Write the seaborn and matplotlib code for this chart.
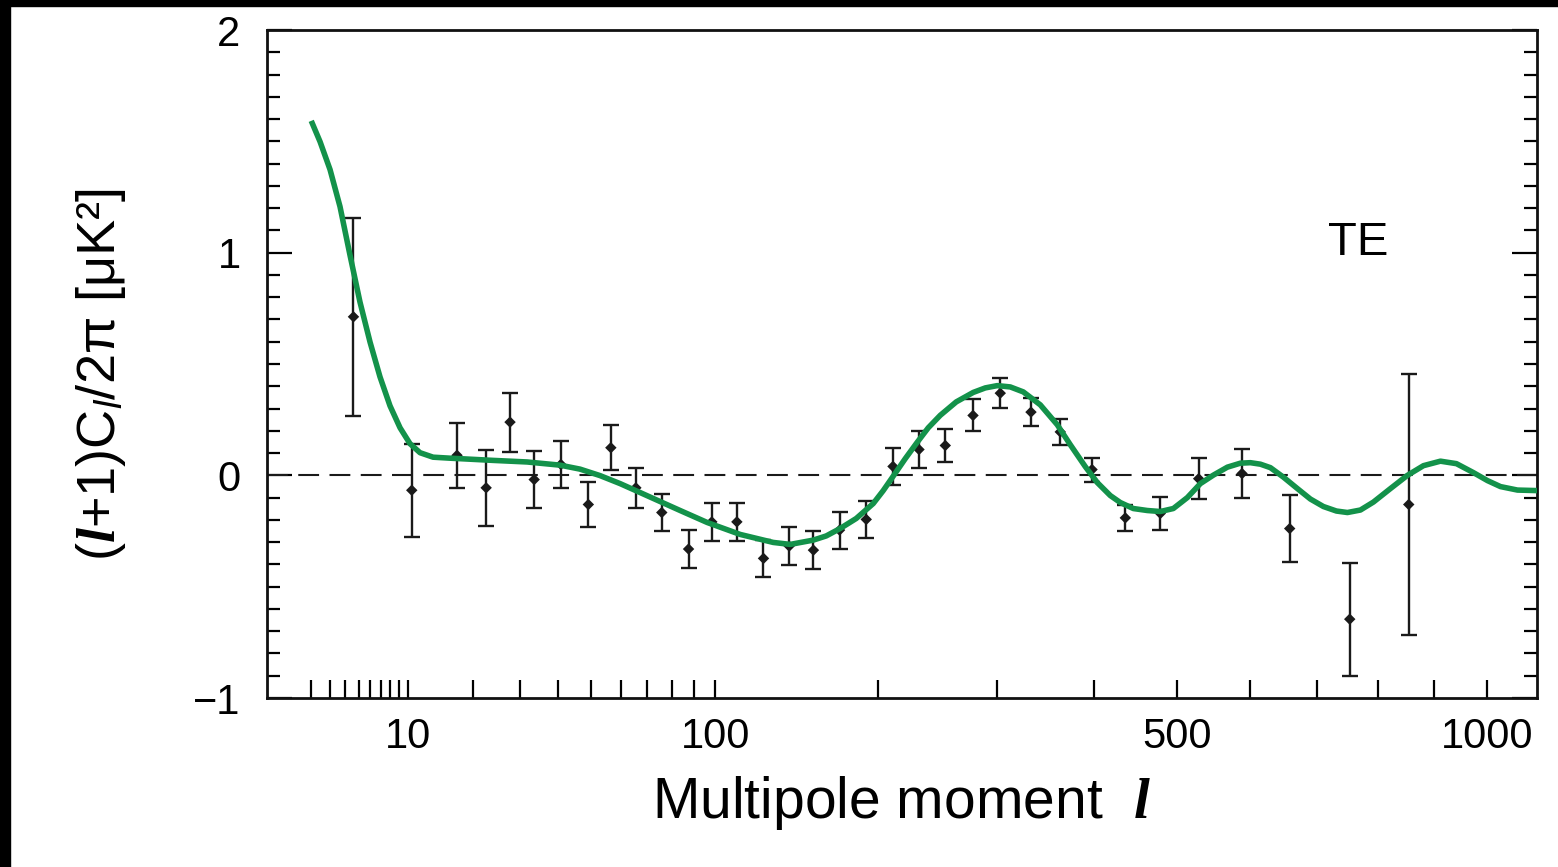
import numpy as np
import matplotlib
matplotlib.use('Agg')
import matplotlib.pyplot as plt
import seaborn as sns
from matplotlib.patches import Rectangle
from matplotlib.ticker import FixedLocator, NullFormatter, MultipleLocator

sns.set_style('ticks')
plt.rcParams['font.family'] = ['Liberation Sans', 'DejaVu Sans']
plt.rcParams['mathtext.fontset'] = 'custom'
plt.rcParams['mathtext.rm'] = 'Liberation Sans'
plt.rcParams['mathtext.it'] = 'Liberation Serif:italic:bold'
plt.rcParams['mathtext.sf'] = 'Liberation Sans:italic'
plt.rcParams['text.color'] = 'black'
plt.rcParams['axes.labelcolor'] = 'black'

# binned TE data (multipole, value, 1-sigma error)
l_data = [4.6, 10.5, 17.2, 22.6, 27.7, 33.5, 40.7, 49.0, 56.5, 65.6,
          75.9, 87.5, 98.4, 111.0, 125.4, 140.3, 155.3, 172.5, 191.2, 211.1,
          231.6, 253.5, 277.9, 303.2, 333.3, 363.6, 398.3, 436.7, 479.4, 528.9,
          588.5, 658.4, 753.3, 854.1]
te_data = [0.712, -0.067, 0.090, -0.056, 0.239, -0.019, 0.049, -0.131, 0.124, -0.056,
           -0.167, -0.331, -0.209, -0.209, -0.373, -0.318, -0.336, -0.246, -0.198, 0.040,
           0.116, 0.134, 0.269, 0.369, 0.284, 0.195, 0.026, -0.191, -0.171, -0.015,
           0.008, -0.239, -0.646, -0.131]
te_err = [0.445, 0.208, 0.147, 0.172, 0.133, 0.127, 0.106, 0.103, 0.101, 0.091,
          0.085, 0.087, 0.086, 0.084, 0.083, 0.086, 0.086, 0.083, 0.084, 0.082,
          0.084, 0.076, 0.072, 0.067, 0.062, 0.059, 0.054, 0.060, 0.074, 0.091,
          0.110, 0.149, 0.254, 0.587]

# best-fit model curve
l_model = [2.0, 2.44, 3.0, 3.63, 4.34, 5.12, 5.99, 6.93, 7.96, 9.08,
           10.28, 11.58, 13.41, 16.04, 17.73, 24.02, 31.73, 40.48, 46.41, 52.84,
           59.78, 67.24, 75.22, 83.75, 96.16, 112.73, 130.9, 140.91, 155.16, 163.58,
           172.95, 184.04, 196.28, 203.71, 211.3, 220.62, 230.19, 239.18, 249.22, 263.0,
           278.12, 289.11, 300.35, 312.82, 325.6, 342.77, 360.47, 374.36, 390.8, 404.25,
           419.13, 430.8, 446.25, 463.27, 479.41, 495.88, 514.01, 531.17, 548.68, 567.93,
           586.15, 600.4, 614.87, 629.53, 648.91, 670.16, 690.28, 710.75, 731.58, 749.51,
           771.01, 792.88, 822.01, 851.81, 880.44, 911.44, 941.24, 973.54, 1000.6, 1026.2,
           1060.2, 1100.0]
te_model = [1.592, 1.498, 1.373, 1.207, 0.988, 0.778, 0.598, 0.442, 0.312, 0.2135,
            0.142, 0.1016, 0.0815, 0.077, 0.0748, 0.0671, 0.060, 0.0457, 0.0278, -0.0013,
            -0.0372, -0.0774, -0.1177, -0.158, -0.2117, -0.2654, -0.3013, -0.3102, -0.291, -0.2722,
            -0.2386, -0.1938, -0.1267, -0.0685, -0.0036, 0.0748, 0.1486, 0.2135, 0.2695, 0.3299,
            0.3724, 0.3926, 0.4029, 0.397, 0.3747, 0.3165, 0.2269, 0.1374, 0.0389, -0.0327,
            -0.0909, -0.1222, -0.1491, -0.158, -0.1625, -0.149, -0.0998, -0.0372, 0.0009, 0.0367,
            0.0546, 0.0568, 0.0501, 0.0345, -0.0081, -0.0595, -0.1065, -0.1401, -0.1603, -0.167,
            -0.1558, -0.12, -0.0595, 0.0, 0.0434, 0.0636, 0.0524, 0.0121, -0.0237, -0.0506,
            -0.0662, -0.0685]


def fwd(x):
    return np.power(np.clip(x, 0, None), 0.4)


def inv(y):
    return np.power(np.clip(y, 0, None), 2.5)


fig = plt.figure(figsize=(15.58, 8.67), dpi=100)
ax = fig.add_axes([267 / 1558, 1 - 698 / 867, 1270 / 1558, 668 / 867])
ax.set_xscale('function', functions=(fwd, inv))

ax.axhline(0, color='#1a1a1a', lw=1.5, dashes=(10, 5), zorder=1)
ax.errorbar(l_data, te_data, yerr=te_err, fmt='none', ecolor='#1a1a1a',
            elinewidth=1.7, capsize=5.5, capthick=1.7, zorder=2)
sns.scatterplot(x=l_data, y=te_data, marker='D', s=34, color='#1a1a1a',
                edgecolor='none', ax=ax, zorder=3)
sns.lineplot(x=l_model, y=te_model, color='#13924a', lw=4, ax=ax, zorder=4,
             solid_joinstyle='round', solid_capstyle='butt')

ax.set_xlim(0.525, 1100)
ax.set_ylim(-1, 2)

ax.set_xticks([10, 100, 500, 1000], labels=['10', '100', '500', '1000'])
ax.xaxis.set_minor_locator(FixedLocator([2, 3, 4, 5, 6, 7, 8, 9,
                                         20, 30, 40, 50, 60, 70, 80, 90,
                                         200, 300, 400, 600, 700, 800, 900]))
ax.xaxis.set_minor_formatter(NullFormatter())
ax.tick_params(axis='x', which='both', direction='in', length=13, width=1.6,
               top=False, bottom=True, labelsize=30, pad=14, colors='black')

ax.set_yticks([-1, 0, 1, 2])
ax.yaxis.set_minor_locator(MultipleLocator(0.1))
ax.tick_params(axis='y', which='major', direction='in', length=18, width=1.6,
               left=True, right=True, labelsize=30, pad=19, colors='black')
ax.tick_params(axis='y', which='minor', direction='in', length=9.5, width=1.6,
               left=True, right=True, colors='black')

for s in ax.spines.values():
    s.set_linewidth(2)
    s.set_color('#111111')

ax.set_xlabel('Multipole moment  $l$', fontsize=41)
ax.xaxis.set_label_coords(0.5, (698 - 818) / 668)
ax.xaxis.label.set_va('baseline')

ax.set_ylabel('($l$+1)C$_{\\mathsf{l}}$/2π [μK²]', fontsize=39)
ax.yaxis.set_label_coords((101 - 267) / 1270, (698 - 375) / 668)
ax.yaxis.label.set_va('center')

ax.text(0.8594, (698 - 255) / 668, 'TE', transform=ax.transAxes,
        fontsize=34, ha='center', va='baseline')

# dark strips along the top and left edge of the scan
fig.add_artist(Rectangle((0, 1 - 6 / 867), 1, 6 / 867, transform=fig.transFigure,
                         color='black', zorder=10))
fig.add_artist(Rectangle((0, 0), 10 / 1558, 1, transform=fig.transFigure,
                         color='black', zorder=10))

fig.savefig('out.png', dpi=100)
